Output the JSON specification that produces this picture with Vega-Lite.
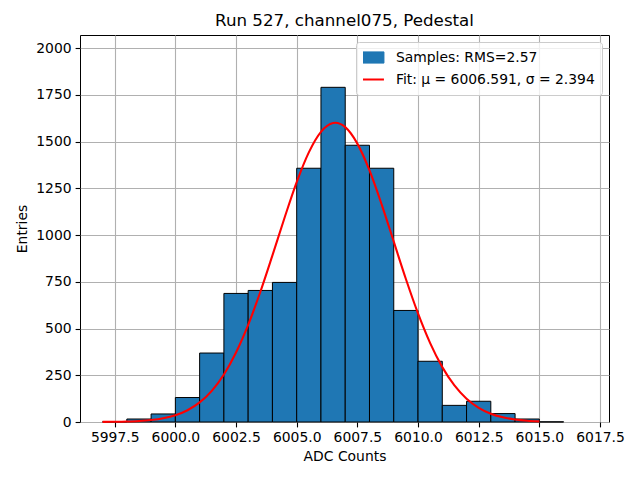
{
  "$schema": "https://vega.github.io/schema/vega-lite/v6.json",
  "autosize": "none",
  "width": 529,
  "height": 387,
  "padding": {"left": 80, "top": 35, "right": 31, "bottom": 58},
  "background": "white",
  "title": {
    "text": "Run 527, channel075, Pedestal",
    "font": "DejaVu Sans",
    "fontSize": 16.7,
    "fontWeight": "normal",
    "color": "black",
    "anchor": "middle",
    "offset": 5
  },
  "datasets": {
    "hist": [
      {"bin_start": 5997, "bin_end": 5998, "count": 1},
      {"bin_start": 5998, "bin_end": 5999, "count": 16},
      {"bin_start": 5999, "bin_end": 6000, "count": 43},
      {"bin_start": 6000, "bin_end": 6001, "count": 131},
      {"bin_start": 6001, "bin_end": 6002, "count": 369},
      {"bin_start": 6002, "bin_end": 6003, "count": 688},
      {"bin_start": 6003, "bin_end": 6004, "count": 704},
      {"bin_start": 6004, "bin_end": 6005, "count": 747},
      {"bin_start": 6005, "bin_end": 6006, "count": 1358},
      {"bin_start": 6006, "bin_end": 6007, "count": 1791},
      {"bin_start": 6007, "bin_end": 6008, "count": 1481},
      {"bin_start": 6008, "bin_end": 6009, "count": 1358},
      {"bin_start": 6009, "bin_end": 6010, "count": 597},
      {"bin_start": 6010, "bin_end": 6011, "count": 325},
      {"bin_start": 6011, "bin_end": 6012, "count": 89},
      {"bin_start": 6012, "bin_end": 6013, "count": 111},
      {"bin_start": 6013, "bin_end": 6014, "count": 45},
      {"bin_start": 6014, "bin_end": 6015, "count": 16},
      {"bin_start": 6015, "bin_end": 6016, "count": 1}
    ],
    "fit": [
      {"x": 5997.0, "y": 0.5},
      {"x": 5997.5, "y": 1.2},
      {"x": 5998.0, "y": 2.6},
      {"x": 5998.5, "y": 5.3},
      {"x": 5999.0, "y": 10.5},
      {"x": 5999.5, "y": 19.9},
      {"x": 6000.0, "y": 36.2},
      {"x": 6000.5, "y": 62.9},
      {"x": 6001.0, "y": 104.7},
      {"x": 6001.5, "y": 166.9},
      {"x": 6002.0, "y": 254.5},
      {"x": 6002.5, "y": 371.8},
      {"x": 6003.0, "y": 519.7},
      {"x": 6003.5, "y": 695.6},
      {"x": 6004.0, "y": 891.3},
      {"x": 6004.5, "y": 1093.3},
      {"x": 6005.0, "y": 1283.9},
      {"x": 6005.5, "y": 1443.1},
      {"x": 6006.0, "y": 1553.0},
      {"x": 6006.5, "y": 1599.8},
      {"x": 6006.591, "y": 1601.0},
      {"x": 6007.0, "y": 1577.8},
      {"x": 6007.5, "y": 1489.7},
      {"x": 6008.0, "y": 1346.4},
      {"x": 6008.5, "y": 1165.0},
      {"x": 6009.0, "y": 965.1},
      {"x": 6009.5, "y": 765.3},
      {"x": 6010.0, "y": 581.0},
      {"x": 6010.5, "y": 422.2},
      {"x": 6011.0, "y": 293.6},
      {"x": 6011.5, "y": 195.6},
      {"x": 6012.0, "y": 124.7},
      {"x": 6012.5, "y": 76.1},
      {"x": 6013.0, "y": 44.5},
      {"x": 6013.5, "y": 24.9},
      {"x": 6014.0, "y": 13.3},
      {"x": 6014.5, "y": 6.8},
      {"x": 6015.0, "y": 3.4}
    ]
  },
  "layer": [
    {
      "data": {"name": "hist"},
      "mark": {"type": "bar", "stroke": "black", "strokeWidth": 1, "opacity": 1},
      "encoding": {
        "x": {
          "field": "bin_start",
          "type": "quantitative",
          "title": "ADC Counts",
          "scale": {"domain": [5996.07, 6017.87], "nice": false, "zero": false},
          "axis": {
            "values": [5997.5, 6000, 6002.5, 6005, 6007.5, 6010, 6012.5, 6015, 6017.5],
            "format": ".1f",
            "labelFlush": false,
            "labelOverlap": false,
            "titlePadding": 5
          }
        },
        "x2": {"field": "bin_end"},
        "y": {
          "field": "count",
          "type": "quantitative",
          "title": "Entries",
          "scale": {"domain": [0, 2071], "nice": false},
          "axis": {
            "values": [0, 250, 500, 750, 1000, 1250, 1500, 1750, 2000],
            "format": "d",
            "titlePadding": 6
          }
        },
        "y2": {"datum": 0},
        "color": {
          "datum": "Samples: RMS=2.57",
          "type": "nominal",
          "scale": {
            "domain": ["Samples: RMS=2.57", "Fit: μ = 6006.591, σ = 2.394"],
            "range": ["#1f77b4", "red"]
          },
          "legend": {
            "title": null,
            "orient": "top-right",
            "offset": 7,
            "symbolSize": 784,
            "labelFont": "DejaVu Sans",
            "labelFontSize": 13.9,
            "labelColor": "black",
            "labelLimit": 400,
            "labelOffset": 19,
            "fillColor": "rgba(255,255,255,0.8)",
            "strokeColor": "#cccccc",
            "cornerRadius": 3,
            "padding": 7,
            "rowPadding": 5,
            "clipHeight": 17,
            "encoding": {
              "symbols": {
                "shape": {"value": {"expr": "datum.value === 'Samples: RMS=2.57' ? 'M-1,-0.4H1V0.4H-1Z' : 'stroke'"}},
                "fill": {"value": {"expr": "datum.value === 'Samples: RMS=2.57' ? '#1f77b4' : 'transparent'"}},
                "stroke": {"value": {"expr": "datum.value === 'Samples: RMS=2.57' ? 'black' : 'red'"}},
                "strokeWidth": {"value": {"expr": "datum.value === 'Samples: RMS=2.57' ? 1 : 2.08"}},
                "opacity": {"value": 1}
              }
            }
          }
        }
      }
    },
    {
      "data": {"name": "fit"},
      "mark": {"type": "line", "strokeWidth": 2.08, "interpolate": "monotone"},
      "encoding": {
        "x": {"field": "x", "type": "quantitative"},
        "y": {"field": "y", "type": "quantitative"},
        "color": {"datum": "Fit: μ = 6006.591, σ = 2.394", "type": "nominal"}
      }
    }
  ],
  "config": {
    "font": "DejaVu Sans",
    "view": {"stroke": "black", "strokeWidth": 1},
    "axis": {
      "domain": false,
      "zindex": 1,
      "grid": true,
      "gridColor": "#b0b0b0",
      "gridWidth": 1.1,
      "gridOpacity": 1,
      "ticks": true,
      "tickColor": "black",
      "tickSize": 4.9,
      "tickWidth": 1.1,
      "labelFont": "DejaVu Sans",
      "labelFontSize": 13.9,
      "labelColor": "black",
      "labelPadding": 4,
      "titleFont": "DejaVu Sans",
      "titleFontSize": 13.9,
      "titleFontWeight": "normal",
      "titleColor": "black"
    }
  }
}
